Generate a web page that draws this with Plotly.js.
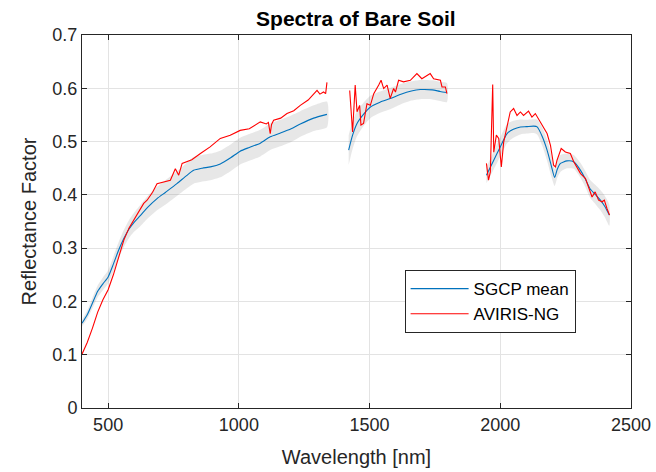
<!DOCTYPE html>
<html>
<head>
<meta charset="utf-8">
<script src="https://cdn.plot.ly/plotly-3.0.1.min.js"></script>
<style>html,body{margin:0;padding:0;background:#fff;}#chart{width:656px;height:472px;}</style>
</head>
<body>
<div id="chart"></div>
<script>
// SGCP mean spectrum (null separates water-absorption gaps)
const meanWl = [400,420,440,460,480,500,520,540,560,580,600,623,650,687,720,763,800,827,860,891,929,970,1005,1040,1082,1120,1159,1200,1235,1286,1337,
  null,
  1420,1435,1452,1475,1503,1540,1579,1620,1660,1694,1740,1770,1796,
  null,
  1947,1975,2000,2026,2050,2077,2100,2128,2141,2160,2179,2195,2208,2218,2230,2255,2281,2307,2325,2344,2365,2383,2400,2417];
const meanVal = [0.159,0.175,0.197,0.219,0.233,0.246,0.27,0.296,0.318,0.336,0.349,0.361,0.376,0.393,0.405,0.421,0.436,0.446,0.45,0.4525,0.458,0.47,0.482,0.489,0.497,0.509,0.516,0.524,0.533,0.544,0.551,
  null,
  0.484,0.512,0.534,0.55,0.565,0.574,0.5807,0.589,0.595,0.5976,0.597,0.594,0.592,
  null,
  0.437,0.465,0.49,0.515,0.523,0.5275,0.528,0.529,0.5275,0.51,0.484,0.455,0.4326,0.448,0.459,0.4637,0.462,0.446,0.43,0.411,0.4,0.39,0.378,0.362];
const meanStd = [0.006,0.008,0.01,0.011,0.012,0.0125,0.014,0.015,0.016,0.017,0.018,0.02,0.021,0.022,0.023,0.023,0.024,0.025,0.025,0.025,0.025,0.025,0.025,0.025,0.025,0.025,0.025,0.025,0.024,0.024,0.024,
  null,
  0.028,0.026,0.024,0.022,0.021,0.02,0.02,0.019,0.018,0.018,0.018,0.018,0.018,
  null,
  0.015,0.017,0.018,0.018,0.016,0.014,0.013,0.013,0.014,0.017,0.02,0.02,0.016,0.016,0.016,0.014,0.013,0.014,0.015,0.017,0.018,0.019,0.02,0.02];

// AVIRIS-NG spectrum
const redWl = [400,420,440,460,480,500,520,540,560,580,597,620,636,649,670,687,710,738,757,770,783,820,853,890,929,967,1005,1040,1082,1105,1113,1120,1125,1133,1160,1184,1210,1235,1265,1299,1310,1324,1332,1337,
  null,
  1424,1435,1445,1452,1462,1467,1477,1490,1503,1516,1535,1544,1554,1567,1579,1592,1599,1611,1630,1656,1681,1700,1732,1745,1771,1777,1790,1796,
  null,
  1947,1955,1962,1971,1975,1985,1994,2004,2013,2026,2038,2051,2064,2077,2089,2108,2121,2134,2153,2179,2192,2204,2211,2217,2233,2249,2268,2281,2300,2307,2326,2338,2351,2363,2376,2389,2398,2408,2418];
const redVal = [0.101,0.123,0.15,0.18,0.203,0.222,0.25,0.285,0.315,0.338,0.3525,0.37,0.384,0.39,0.405,0.421,0.424,0.4275,0.449,0.437,0.459,0.466,0.4775,0.49,0.506,0.512,0.521,0.524,0.537,0.533,0.536,0.515,0.532,0.54,0.544,0.5526,0.558,0.568,0.578,0.596,0.589,0.593,0.59,0.611,
  null,
  0.596,0.518,0.606,0.556,0.568,0.531,0.534,0.571,0.568,0.59,0.606,0.615,0.5995,0.606,0.581,0.5995,0.593,0.615,0.612,0.615,0.6276,0.618,0.6276,0.618,0.615,0.6025,0.6025,0.59,
  null,
  0.459,0.4275,0.443,0.607,0.48,0.512,0.506,0.4525,0.499,0.531,0.5556,0.562,0.549,0.5556,0.549,0.557,0.546,0.5526,0.537,0.515,0.493,0.4556,0.4525,0.465,0.487,0.4806,0.4776,0.462,0.446,0.44,0.4307,0.415,0.396,0.4056,0.39,0.387,0.39,0.3745,0.362];

const xTicks = [500,1000,1500,2000,2500];
const yTicks = [0,0.1,0.2,0.3,0.4,0.5,0.6,0.7];

function segments(xs, ys, ss) {
  const out = []; let cur = {x:[], y:[], s:[]};
  for (let i = 0; i < xs.length; i++) {
    if (xs[i] === null) { if (cur.x.length) out.push(cur); cur = {x:[], y:[], s:[]}; continue; }
    cur.x.push(xs[i]); cur.y.push(ys[i]); if (ss) cur.s.push(ss[i]);
  }
  if (cur.x.length) out.push(cur);
  return out;
}

const traces = [];
segments(meanWl, meanVal, meanStd).forEach(seg => {
  const up = seg.y.map((v, i) => v + seg.s[i]);
  const lo = seg.y.map((v, i) => v - seg.s[i]);
  traces.push({
    x: seg.x.concat(seg.x.slice().reverse()),
    y: up.concat(lo.reverse()),
    type: 'scatter', mode: 'lines', fill: 'toself', line: {shape: 'spline', smoothing: 0.6, width: 0, color: 'rgba(0,0,0,0)'},
    fillcolor: 'rgba(120,120,120,0.18)',
    hoverinfo: 'skip', showlegend: false
  });
});
traces.push({x: meanWl, y: meanVal, type: 'scatter', mode: 'lines', name: 'SGCP mean',
  line: {color: '#0072BD', width: 1.1, shape: 'spline', smoothing: 0.6}, connectgaps: false});
traces.push({x: redWl, y: redVal, type: 'scatter', mode: 'lines', name: 'AVIRIS-NG',
  line: {color: '#FF0000', width: 1.1}, connectgaps: false});

const FONT = 'Liberation Sans, Arial, sans-serif';
const axisCommon = {
  showline: true, mirror: 'ticks', linecolor: '#262626', linewidth: 1,
  ticks: 'inside', ticklen: 5, tickcolor: '#262626', tickwidth: 1,
  showgrid: true, gridcolor: '#e3e3e3', gridwidth: 1, zeroline: false,
  tickfont: {family: FONT, size: 18, color: '#262626'}
};

const layout = {
  width: 656, height: 472,
  margin: {l: 82, r: 25, t: 35, b: 64, pad: 0},
  paper_bgcolor: '#fff', plot_bgcolor: '#fff',
  title: {text: '<b>Spectra of Bare Soil</b>', x: 0.5425, xanchor: 'center', y: 0.96, yanchor: 'middle',
    font: {family: FONT, size: 21, color: '#000'}},
  xaxis: Object.assign({}, axisCommon, {range: [400, 2500], tickvals: xTicks, ticktext: xTicks.map(String),
    title: {text: 'Wavelength [nm]', standoff: 16, font: {family: FONT, size: 20, color: '#262626'}}}),
  yaxis: Object.assign({}, axisCommon, {range: [0, 0.7], tickvals: yTicks, ticktext: yTicks.map(String),
    title: {text: 'Reflectance Factor', standoff: 10, font: {family: FONT, size: 20, color: '#262626'}}}),
  legend: {x: 0.5876, y: 0.3697, xanchor: 'left', yanchor: 'top', bgcolor: '#fff',
    bordercolor: '#262626', borderwidth: 1, itemwidth: 58, tracegroupgap: 0,
    font: {family: FONT, size: 17, color: '#000'}},
  showlegend: true
};

Plotly.newPlot('chart', traces, layout, {displayModeBar: false, staticPlot: true});
</script>
</body>
</html>
